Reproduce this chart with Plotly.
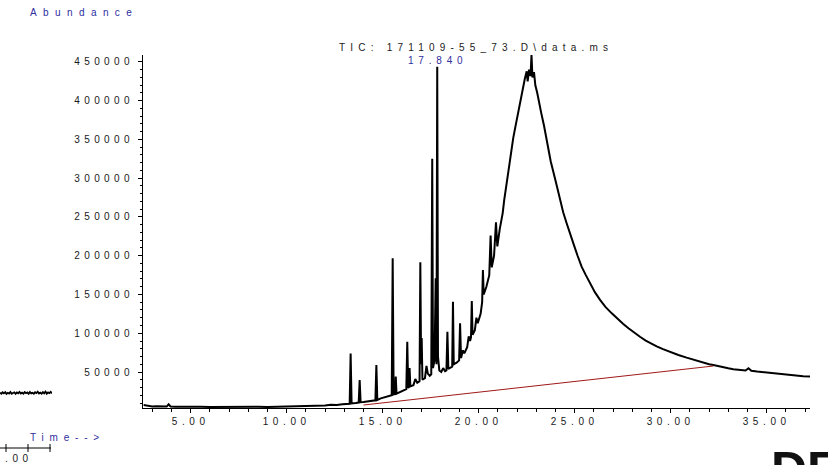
import plotly.graph_objects as go

W, H = 828, 465

# ---- main TIC trace (time in min, abundance) ----
time_min = [
    2.55, 2.70, 2.85, 3.00, 3.20, 3.40, 3.60, 3.75, 3.85, 3.95, 4.20, 4.60, 5.00, 5.50,
    6.00, 6.50, 7.00, 7.50, 8.00, 8.50, 9.00, 9.50, 10.00, 10.50, 11.00, 11.30, 11.50,
    11.80, 12.00, 12.30, 12.60, 12.90, 13.10, 13.28, 13.33, 13.38, 13.60, 13.75, 13.80,
    13.85, 14.00, 14.20, 14.40, 14.62, 14.67, 14.72, 14.90, 15.10, 15.30, 15.47, 15.52,
    15.57, 15.64, 15.68, 15.72, 15.90, 16.10, 16.23, 16.28, 16.33, 16.37, 16.40, 16.44,
    16.60, 16.70, 16.80, 16.92, 16.96, 17.00, 17.03, 17.07, 17.20, 17.28, 17.35, 17.45,
    17.53, 17.58, 17.62, 17.70, 17.76, 17.80, 17.84, 17.88, 17.95, 18.05, 18.15, 18.25,
    18.32, 18.37, 18.42, 18.55, 18.62, 18.66, 18.70, 18.85, 18.98, 19.03, 19.08, 19.18,
    19.25, 19.40, 19.48, 19.55, 19.60, 19.64, 19.68, 19.80, 19.88, 19.95, 20.10, 20.18,
    20.22, 20.26, 20.40, 20.55, 20.62, 20.68, 20.80, 20.90, 20.97, 21.10, 21.25, 21.33,
    21.40, 21.50, 21.60, 21.70, 21.80, 21.90, 22.00, 22.10, 22.20, 22.30, 22.40, 22.50,
    22.55, 22.62, 22.70, 22.75, 22.80, 22.88, 22.95, 23.05, 23.15, 23.25, 23.40, 23.55,
    23.75, 24.00, 24.23, 24.40, 24.58, 24.75, 24.93, 25.15, 25.36, 25.58, 25.80, 26.05,
    26.32, 26.60, 26.93, 27.20, 27.53, 27.80, 28.05, 28.40, 28.70, 28.91, 29.27, 29.60,
    29.79, 30.10, 30.40, 30.83, 31.20, 31.60, 32.00, 32.22, 32.60, 33.00, 33.26, 33.60,
    33.90, 34.05, 34.20, 34.50, 35.00, 35.40, 35.80, 36.04, 36.50, 36.90, 37.34,
]
abundance = [
    7400, 6600, 6000, 5600, 5900, 5500, 5700, 5400, 8300, 5600, 5300, 5500, 5100, 5300,
    5000, 5200, 4900, 5100, 4900, 5200, 5000, 5300, 5200, 5500, 5700, 6600, 6000,
    7000, 6700, 7600, 7300, 8400, 8600, 9000, 74000, 9500, 10000, 10500, 39700,
    11000, 11300, 12000, 12600, 13500, 59000, 14000, 16000, 17500, 18800, 20000, 196700,
    21000, 21500, 44000, 22000, 24000, 26000, 28000, 89000, 29500, 30500, 55000, 31500,
    33000, 41000, 36000, 38000, 191500, 60000, 94000, 40000, 42000, 58000, 48000, 45000,
    47000, 325000, 55000, 65000, 171000, 60000, 444000, 70000, 52000, 50000, 55000, 51000,
    52000, 102000, 54000, 56000, 57000, 140700, 60000, 62000, 65000, 112800, 68000, 78000,
    74000, 82000, 96000, 90000, 95000, 141600, 98000, 104000, 120000, 113000, 125000, 140000,
    181600, 150000, 160000, 175000, 226000, 185000, 200000, 243000, 212000, 235000, 255000, 272000,
    285000, 300000, 318000, 335000, 352000, 365000, 378000, 392000, 405000, 417000, 428000, 438000,
    425000, 440000, 432000, 459000, 430000, 437000, 420000, 410000, 395000, 385000, 368000, 348000,
    322000, 297000, 272000, 256000, 242000, 228000, 216000, 200000, 186000, 175000, 164500, 153000,
    143000, 134000, 125700, 119000, 112000, 106500, 101500, 95500, 90500, 87500, 83000, 79500,
    77500, 74500, 72000, 68500, 65500, 62500, 60000, 59000, 56500, 54800, 53600, 52800,
    52000, 54800, 51500, 50500, 49200, 48000, 46800, 46100, 45200, 44600, 44000,
]

# integration baseline (red)
base_t = [14.00, 32.22]
base_a = [7400, 57700]

# labelled peak
peak_t = 17.84
peak_a = 444000
peak_text = "17.840"

# axis ticks
x_ticks = [5, 10, 15, 20, 25, 30, 35]
x_labels = ["5.00", "10.00", "15.00", "20.00", "25.00", "30.00", "35.00"]
y_ticks = [50000, 100000, 150000, 200000, 250000, 300000, 350000, 400000, 450000]
y_labels = ["50000", "100000", "150000", "200000", "250000", "300000", "350000", "400000", "450000"]

# fragment of a neighbouring chromatogram visible at the left edge
frag_x = list(range(0, 41))
frag_y = [5.2, 4.6, 5.4, 4.8, 5.5, 4.5, 5.1, 4.7, 5.6, 4.6, 5.0, 5.4, 4.5, 5.3, 4.8, 5.6, 4.7,
          5.2, 4.6, 5.5, 4.9, 5.3, 4.5, 5.6, 4.8, 5.1, 4.6, 5.4, 4.9, 5.7, 4.7, 5.2, 4.6, 5.5,
          4.8, 5.8, 4.6, 5.3, 4.9, 5.6, 4.8]

BLUE = "#2e2ea0"
FONT = "Liberation Sans, Arial, sans-serif"


def spaced(text, px):
    return "<span style='letter-spacing:%spx'>%s</span>" % (px, text)


fig = go.Figure()
fig.add_trace(go.Scatter(x=time_min, y=abundance, mode="lines",
                         line=dict(color="black", width=2), hoverinfo="skip"))
fig.add_trace(go.Scatter(x=base_t, y=base_a, mode="lines",
                         line=dict(color="#a01818", width=1), hoverinfo="skip"))
fig.add_trace(go.Scatter(x=frag_x, y=frag_y, mode="lines", xaxis="x2", yaxis="y2",
                         line=dict(color="black", width=1.8), hoverinfo="skip"))


def px(x):
    return x / W


def py(y):
    return 1 - y / H


fig.update_layout(
    width=W, height=H,
    margin=dict(l=0, r=0, t=0, b=0),
    paper_bgcolor="white", plot_bgcolor="white",
    showlegend=False,
    font=dict(family=FONT, size=10, color="#1a1a1a"),
    xaxis=dict(
        domain=[px(143), px(810)], range=[2.516, 37.255],
        showline=True, linecolor="black", linewidth=1,
        ticks="outside", ticklen=4, tickcolor="black", tickwidth=1,
        tickvals=x_ticks, ticktext=[spaced(t, 4.6) for t in x_labels],
        showgrid=False, zeroline=False,
        minor=dict(dtick=1, tick0=0, ticks="outside", ticklen=3, tickcolor="black", showgrid=False),
    ),
    yaxis=dict(
        domain=[py(408), py(55)], range=[3550, 459000],
        showline=True, linecolor="black", linewidth=1,
        ticks="outside", ticklen=4, tickcolor="black", tickwidth=1,
        tickvals=y_ticks, ticktext=[spaced(t, 4.4) for t in y_labels],
        ticklabelstandoff=2,
        showgrid=False, zeroline=False,
        minor=dict(dtick=10000, tick0=0, ticks="outside", ticklen=2, tickcolor="black", showgrid=False),
    ),
    xaxis2=dict(domain=[0, px(52)], range=[0, 40], visible=False, anchor="y2"),
    yaxis2=dict(domain=[py(402), py(384)], range=[0, 10], visible=False, anchor="x2"),
)

annotations = [
    dict(text=spaced("Abundance", 6.4), x=px(28), y=py(13), xanchor="left", yanchor="middle",
         font=dict(color=BLUE, size=10)),
    dict(text=spaced("TIC: 171109-55_73.D\\data.ms", 5.2), x=px(476), y=py(47),
         xanchor="center", yanchor="middle", font=dict(color="#1a1a1a", size=10)),
    dict(text=spaced("Time-->", 5.8), x=px(28), y=py(437), xanchor="left", yanchor="middle",
         font=dict(color=BLUE, size=10)),
    dict(text=spaced(".00", 4.6), x=px(3), y=py(458), xanchor="left", yanchor="middle",
         font=dict(color="#1a1a1a", size=10)),
    dict(text="<b>DE</b>", x=px(769), y=py(440), xanchor="left", yanchor="top",
         font=dict(color="#111111", size=50)),
]
for a in annotations:
    a.update(xref="paper", yref="paper", showarrow=False)
annotations.append(dict(text=spaced(peak_text, 4.8), x=peak_t, y=peak_a, xref="x", yref="y",
                        xanchor="center", yanchor="bottom", yshift=-1, showarrow=False,
                        font=dict(color=BLUE, size=10)))
fig.update_layout(annotations=annotations)

shapes = [dict(type="line", x0=px(0), x1=px(51), y0=py(448), y1=py(448))]
for tx in (6, 28, 50):
    shapes.append(dict(type="line", x0=px(tx), x1=px(tx), y0=py(444), y1=py(452)))
for s in shapes:
    s.update(xref="paper", yref="paper", line=dict(color="black", width=1))
fig.update_layout(shapes=shapes)

fig.write_html("out.html")
